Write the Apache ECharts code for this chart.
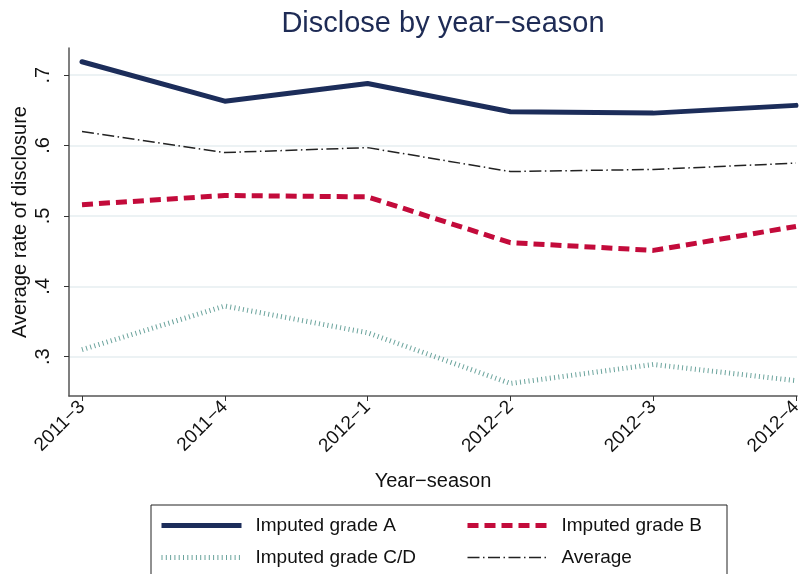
<!DOCTYPE html>
<html>
<head>
<meta charset="utf-8">
<script src="https://cdn.jsdelivr.net/npm/echarts@6/dist/echarts.min.js"></script>
<style>
html,body{margin:0;padding:0;background:#fff;}
#chart{width:799px;height:574px;}
</style>
</head>
<body>
<div id="chart"></div>
<script>
var categories = ['2011\u22123', '2011\u22124', '2012\u22121', '2012\u22122', '2012\u22123', '2012\u22124'];
var gradeA  = [0.719, 0.663, 0.688, 0.648, 0.646, 0.657];
var gradeB  = [0.516, 0.529, 0.527, 0.462, 0.451, 0.485];
var gradeCD = [0.310, 0.372, 0.334, 0.262, 0.289, 0.266];
var average = [0.620, 0.590, 0.597, 0.563, 0.566, 0.575];
var yTicks = [0.3, 0.4, 0.5, 0.6, 0.7];
var xTicks = [0, 1, 2, 3, 4, 5];

function pairs(arr) { return arr.map(function (v, i) { return [i, v]; }); }

var FONT = '"Liberation Sans", Arial, Helvetica, sans-serif';
var styleA  = {color: '#1c2d5a', width: 5, type: 'solid', cap: 'butt', join: 'round'};
var styleB  = {color: '#c30b3b', width: 5, type: [11, 6], cap: 'butt'};
var styleCD = {color: '#6aa39c', width: 5, type: [1, 3.3], cap: 'butt'};
var styleAv = {color: '#222222', width: 1.5, type: [12, 3.5, 1.5, 3.5]};

var chart = echarts.init(document.getElementById('chart'), null, {renderer: 'canvas'});

var legendCommon = {
  orient: 'vertical', top: 516, padding: 0,
  itemWidth: 80, itemHeight: 14, itemGap: 13,
  itemStyle: {opacity: 0},
  textStyle: {fontFamily: FONT, fontSize: 19, color: '#111', padding: [0, 0, 0, 9]}
};

var option = {
  backgroundColor: '#ffffff',
  animation: false,
  textStyle: {fontFamily: FONT},
  title: {
    text: 'Disclose by year\u2212season',
    left: 438, top: 4, textAlign: 'center',
    textStyle: {fontFamily: FONT, fontSize: 29, fontWeight: 'normal', color: '#1e2b55'}
  },
  grid: {left: 69, right: 2, top: 48, bottom: 178, containLabel: false, outerBoundsMode: 'none'},
  xAxis: {
    type: 'value', min: -0.091, max: 5.007,
    name: 'Year\u2212season', nameLocation: 'middle', nameGap: 75, nameMoveOverlap: false,
    nameTextStyle: {fontFamily: FONT, fontSize: 20, color: '#111'},
    axisLine: {show: true, onZero: false, lineStyle: {color: '#555', width: 1.5}},
    axisTick: {show: true, length: 5, lineStyle: {color: '#333', width: 1}, customValues: xTicks},
    axisLabel: {
      customValues: xTicks, rotate: 45, margin: 8,
      fontFamily: FONT, fontSize: 19, color: '#111',
      formatter: function (v) { return categories[Math.round(v)]; }
    },
    splitLine: {show: false}
  },
  yAxis: {
    type: 'value', min: 0.2442, max: 0.7385,
    name: 'Average rate of disclosure', nameLocation: 'middle', nameGap: 39, nameRotate: 90,
    nameMoveOverlap: false,
    nameTextStyle: {fontFamily: FONT, fontSize: 20, color: '#111'},
    axisLine: {show: true, onZero: false, lineStyle: {color: '#555', width: 1.5}},
    axisTick: {show: true, length: 5, lineStyle: {color: '#333', width: 1}, customValues: yTicks},
    axisLabel: {
      customValues: yTicks, rotate: 90, margin: 16,
      fontFamily: FONT, fontSize: 20, color: '#111',
      formatter: function (v) { return v.toFixed(1).replace(/^0/, ''); }
    },
    splitLine: {show: true, lineStyle: {color: '#e6eef0', width: 1.5}}
  },
  legend: [
    Object.assign({}, legendCommon, {
      left: 159,
      data: [
        {name: 'Imputed grade A', lineStyle: styleA},
        {name: 'Imputed grade C/D', lineStyle: styleCD}
      ]
    }),
    Object.assign({}, legendCommon, {
      left: 465,
      data: [
        {name: 'Imputed grade B', lineStyle: styleB},
        {name: 'Average', lineStyle: styleAv}
      ]
    })
  ],
  graphic: [{
    type: 'rect', silent: true,
    shape: {x: 151, y: 505, width: 576, height: 80},
    style: {fill: 'none', stroke: '#222', lineWidth: 1}
  }],
  series: [
    {name: 'Imputed grade C/D', type: 'line', data: pairs(gradeCD), symbol: 'none',
     lineStyle: styleCD, itemStyle: {color: styleCD.color}},
    {name: 'Average', type: 'line', data: pairs(average), symbol: 'none',
     lineStyle: styleAv, itemStyle: {color: styleAv.color}},
    {name: 'Imputed grade B', type: 'line', data: pairs(gradeB), symbol: 'none',
     lineStyle: styleB, itemStyle: {color: styleB.color}},
    {name: 'Imputed grade A', type: 'line', data: pairs(gradeA), symbol: 'none',
     lineStyle: Object.assign({}, styleA, {cap: 'round'}), itemStyle: {color: styleA.color}}
  ]
};
chart.setOption(option);
</script>
</body>
</html>
